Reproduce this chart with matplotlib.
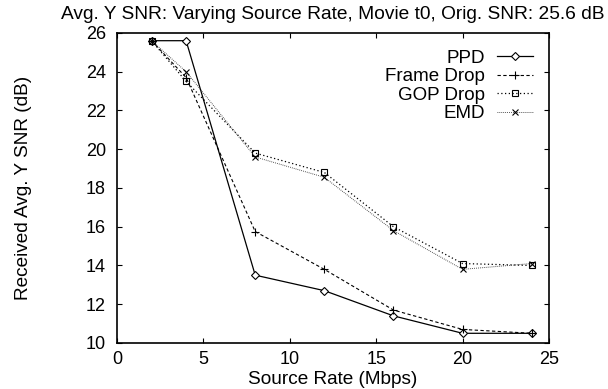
import numpy as np
import matplotlib
matplotlib.use('Agg')
import matplotlib.pyplot as plt

plt.rcParams['font.family'] = ['Liberation Sans', 'DejaVu Sans']

# source rate (Mbps)
rate = [2, 4, 8, 12, 16, 20, 24]

# received avg. Y SNR (dB)
ppd = [25.6, 25.6, 13.5, 12.7, 11.4, 10.5, 10.5]
frame_drop = [25.6, 23.7, 15.75, 13.8, 11.7, 10.7, 10.5]
gop_drop = [25.6, 23.5, 19.8, 18.8, 16.0, 14.1, 14.0]
emd = [25.6, 24.0, 19.6, 18.55, 15.8, 13.8, 14.1]

fig = plt.figure(figsize=(6.08, 3.89), dpi=100)
ax = fig.add_axes([0.1924, 0.1183, 0.7105, 0.797])

ax.plot(rate, ppd, '-', color='k', lw=0.9, marker='D', ms=4, mfc='white', mew=0.8, label='PPD')
ax.plot(rate, frame_drop, '--', color='k', lw=0.8, dashes=(3, 2.2), marker='+', ms=5.5, mew=0.8, label='Frame Drop')
ax.plot(rate, gop_drop, color='k', lw=0.9, dashes=(1, 2), marker='s', ms=5, mfc='none', mew=0.8, label='GOP Drop')
ax.plot(rate, emd, color='#333333', lw=0.7, dashes=(0.8, 1.2), marker='x', ms=4.5, mec='k', mew=0.8, label='EMD')

ax.set_xlim(0, 25)
ax.set_ylim(10, 26)
ax.set_xticks([0, 5, 10, 15, 20, 25])
ax.set_yticks(np.arange(10, 27, 2))
ax.tick_params(direction='in', top=True, right=True, labelsize=13, length=3.5, width=0.8)
ax.tick_params(axis='x', pad=6)
ax.tick_params(axis='y', pad=8)
for s in ax.spines.values():
    s.set_linewidth(1.2)

ax.set_xlabel('Source Rate (Mbps)', fontsize=13.7, labelpad=2)
ax.set_ylabel('Received Avg. Y SNR (dB)', fontsize=13.7)
ax.yaxis.set_label_coords(-0.197, 0.5)
ax.set_title('Avg. Y SNR: Varying Source Rate, Movie t0, Orig. SNR: 25.6 dB', fontsize=13.8, pad=10)

leg = ax.legend(loc='upper right', bbox_to_anchor=(0.963, 0.947), frameon=False, fontsize=13.5,
                markerfirst=False, handlelength=1.92, labelspacing=0.08, borderaxespad=0,
                borderpad=0, handletextpad=0.64)

fig.savefig('out.png', dpi=100)
